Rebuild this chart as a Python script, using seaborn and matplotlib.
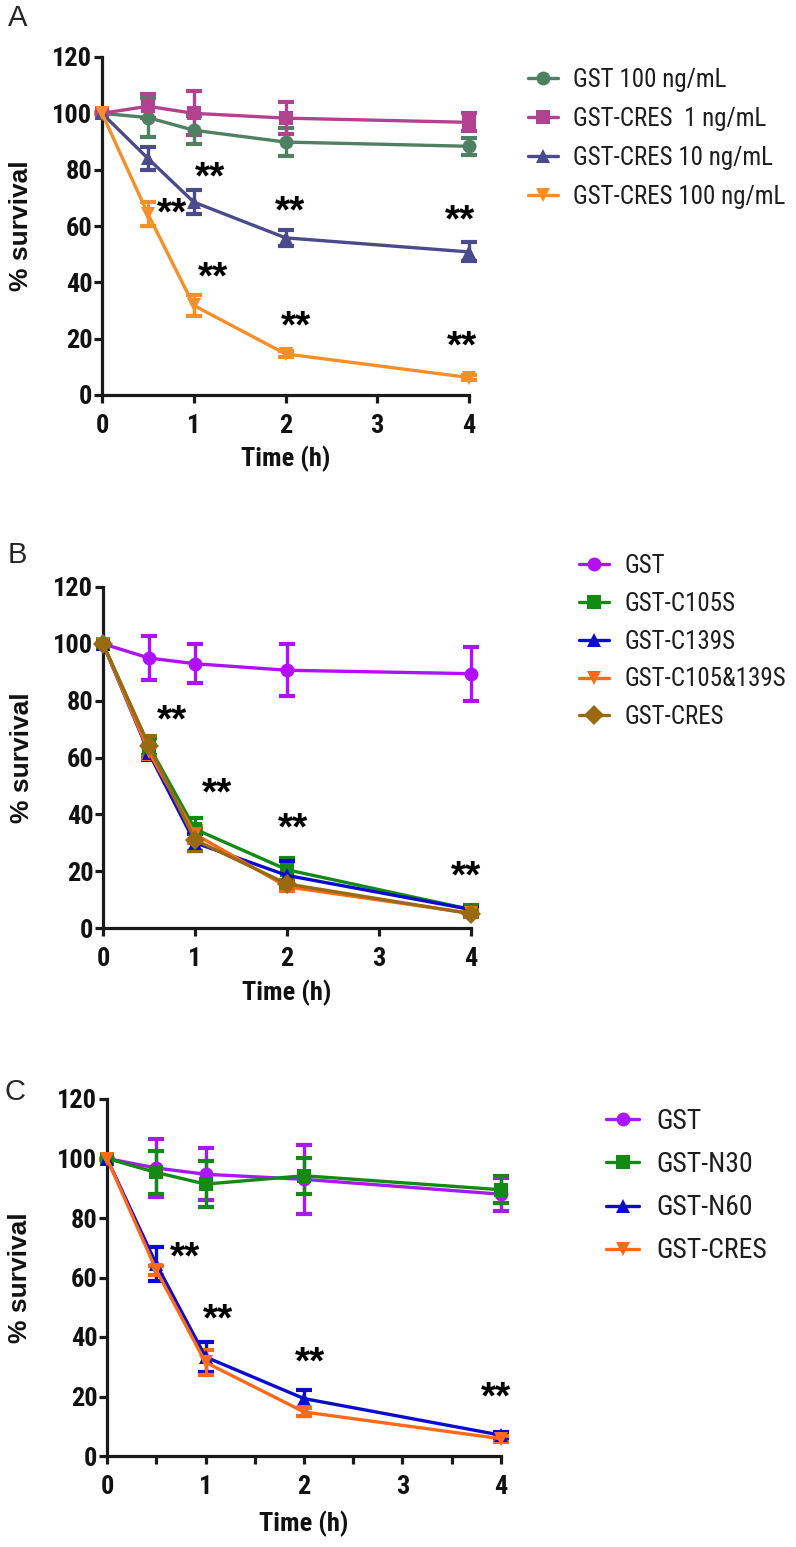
import numpy as np
import pandas as pd
import matplotlib
matplotlib.use('Agg')
from matplotlib import pyplot as plt
from matplotlib import font_manager
from matplotlib.lines import Line2D
import seaborn as sns

# shared time points (h)
time_h = [0, 0.5, 1, 2, 4]

# Panel A: dose response
a_groups = ['GST 100 ng/mL', 'GST-CRES  1 ng/mL', 'GST-CRES 10 ng/mL', 'GST-CRES 100 ng/mL']
a_gst100 = [100, 98.5, 94, 89.8, 88.3]
a_gst100_err = [0, 7, 5, 5, 3]
a_cres1 = [100, 102.5, 100, 98.3, 96.8]
a_cres1_err = [0, 4.3, 7.8, 5.8, 3.2]
a_cres10 = [100, 84, 68.5, 55.8, 50.8]
a_cres10_err = [0, 4.2, 4.4, 2.9, 3.4]
a_cres100 = [100, 64.3, 31.8, 14.6, 6.2]
a_cres100_err = [0, 4.2, 3.7, 1.0, 0.8]
a_star_x = [0.76, 1.18, 1.21, 2.05, 2.12, 3.9, 3.92]
a_star_y = [64, 77, 41.3, 64.7, 24, 61.7, 16.8]

# Panel B: cysteine mutants
b_groups = ['GST', 'GST-C105S', 'GST-C139S', 'GST-C105&139S', 'GST-CRES']
b_gst = [100, 95, 93, 90.7, 89.5]
b_gst_err = [0, 7.7, 6.8, 9.2, 9.5]
b_c105s = [100, 64, 34.8, 20.5, 6.5]
b_c105s_err = [0, 3, 4, 4.2, 1.5]
b_c139s = [100, 61.5, 30, 18.5, 6.5]
b_c139s_err = [0, 2.5, 3, 5.2, 1]
b_c105_139s = [100, 62, 33, 14.5, 5.2]
b_c105_139s_err = [0, 2.5, 3, 1.5, 1]
b_cres = [100, 64, 31, 15.5, 5]
b_cres_err = [0, 3.5, 4, 1.5, 1]
b_star_x = [0.75, 1.24, 2.07, 3.95]
b_star_y = [72.5, 47, 34.7, 17.9]

# Panel C: N-terminal truncations
c_groups = ['GST', 'GST-N30', 'GST-N60', 'GST-CRES']
c_gst = [100, 96.8, 94.7, 93, 88]
c_gst_err = [0, 9.7, 8.7, 11.5, 5.5]
c_n30 = [100, 95.3, 91.4, 94.2, 89.5]
c_n30_err = [0, 7.2, 7.7, 6, 4.5]
c_n60 = [100, 64.5, 33.3, 19.3, 7]
c_n60_err = [0, 5.8, 5, 3, 1]
c_cres = [100, 62.5, 31.5, 14.8, 5.8]
c_cres_err = [0, 1.5, 4.2, 1.2, 1]
c_star_x = [0.79, 1.13, 2.06, 3.95]
c_star_y = [66.3, 45.4, 31.1, 19.2]

W, H = 796, 1547


def pick_fonts(candidates):
    # keep only families that are really installed, DejaVu as last resort
    installed = {f.name for f in font_manager.fontManager.ttflist}
    return [c for c in candidates if c in installed] + ['DejaVu Sans']


NARROW = pick_fonts(['Liberation Sans Narrow', 'Arial Narrow', 'Roboto Condensed',
                     'Sofia Sans Semi Condensed', 'Barlow Semi Condensed', 'Liberation Sans'])
SANS = pick_fonts(['Liberation Sans', 'Arial', 'Arimo', 'Helvetica', 'Roboto'])

sns.set_theme(style='white')
plt.rcParams['font.family'] = SANS

fig = plt.figure(figsize=(W / 100, H / 100), dpi=100)


def add_axes_px(left, right, top, bottom):
    return fig.add_axes([left / W, 1 - bottom / H, (right - left) / W, (bottom - top) / H])


def draw_panel(ax, groups, means, errs, colors, markers, star_x, star_y,
               letter, letter_xy, legend_xy, legend_size, legend_gap, minor=False):
    rows = []
    for g, m in zip(groups, means):
        for t, v in zip(time_h, m):
            rows.append({'time': t, 'survival': v, 'group': g})
    df = pd.DataFrame(rows)

    # error bars first, lines and markers on top
    for m, e, c in zip(means, errs, colors):
        ax.errorbar(time_h, m, yerr=e, fmt='none', ecolor=c, elinewidth=2.4,
                    capsize=5.5, capthick=3, clip_on=False, zorder=2)
    sns.lineplot(data=df, x='time', y='survival', hue='group', style='group',
                 hue_order=groups, style_order=groups,
                 palette=dict(zip(groups, colors)), markers=dict(zip(groups, markers)),
                 dashes=False, linewidth=2.4, markersize=10, markeredgewidth=0,
                 legend=False, errorbar=None, ax=ax, clip_on=False, zorder=3)

    ax.set_xlim(0, 4)
    ax.set_ylim(0, 120)
    ax.set_xticks([0, 1, 2, 3, 4])
    ax.set_yticks(range(0, 121, 20))
    if minor:
        ax.set_xticks([0.5, 1.5, 2.5, 3.5], minor=True)
    sns.despine(ax=ax)
    for s in ['left', 'bottom']:
        ax.spines[s].set_linewidth(2.3)
        ax.spines[s].set_color('#1a1a1a')
    ax.tick_params(axis='both', which='both', direction='out', length=6,
                   width=2.3, color='#1a1a1a', bottom=True, left=True)
    ax.tick_params(axis='y', pad=1)
    ax.tick_params(axis='x', pad=8)
    for lab in ax.get_xticklabels() + ax.get_yticklabels():
        lab.set_fontfamily(NARROW)
        lab.set_fontweight('bold')
        lab.set_fontsize(19)
        lab.set_color('#111111')

    ax.set_xlabel('Time (h)', fontsize=19, fontweight='bold', family=NARROW, color='#111111')
    ax.xaxis.set_label_coords(0.5, -0.19)
    ax.xaxis.label.set_va('center')
    ax.set_ylabel('% survival', fontsize=19, fontweight='bold', family=SANS, color='#111111')
    ax.yaxis.set_label_coords(-0.22, 0.5)
    ax.yaxis.label.set_va('center')

    for sx, sy in zip(star_x, star_y):
        ax.text(sx, sy, '**', ha='center', va='center', fontsize=28,
                fontweight='bold', family=SANS, color='black')

    fig.text(letter_xy[0] / W, 1 - letter_xy[1] / H, letter, fontsize=21,
             family=SANS, ha='center', va='center')

    handles = [Line2D([0], [0], color=c, marker=mk, lw=2.4, markersize=10,
                      markeredgewidth=0) for c, mk in zip(colors, markers)]
    ax.legend(handles, groups, loc='upper left',
              bbox_to_anchor=(legend_xy[0] / W, 1 - legend_xy[1] / H),
              bbox_transform=fig.transFigure, frameon=False, borderpad=0,
              borderaxespad=0, handlelength=1.2, handletextpad=0.6,
              labelspacing=legend_gap, labelcolor='#1e1e1e',
              prop={'family': NARROW, 'size': legend_size})


ax_a = add_axes_px(102, 469, 57, 395)
draw_panel(ax_a, a_groups,
           [a_gst100, a_cres1, a_cres10, a_cres100],
           [a_gst100_err, a_cres1_err, a_cres10_err, a_cres100_err],
           ['#4f8062', '#b2428f', '#4b4a8c', '#f68e2a'],
           ['o', 's', '^', 'v'], a_star_x, a_star_y,
           'A', (18, 18), (528, 68), 18, 0.6)

ax_b = add_axes_px(103, 471, 587, 928)
draw_panel(ax_b, b_groups,
           [b_gst, b_c105s, b_c139s, b_c105_139s, b_cres],
           [b_gst_err, b_c105s_err, b_c139s_err, b_c105_139s_err, b_cres_err],
           ['#b010ff', '#138a13', '#0a0ad0', '#ff6a1a', '#9a6a12'],
           ['o', 's', '^', 'v', 'D'], b_star_x, b_star_y,
           'B', (17, 555), (579, 554), 18, 0.55)

ax_c = add_axes_px(107, 501, 1099, 1456)
draw_panel(ax_c, c_groups,
           [c_gst, c_n30, c_n60, c_cres],
           [c_gst_err, c_n30_err, c_n60_err, c_cres_err],
           ['#a818f8', '#138a13', '#0a0ad0', '#ff6a1a'],
           ['o', 's', '^', 'v'], c_star_x, c_star_y,
           'C', (15, 1092), (606, 1108), 20, 0.58, minor=True)

fig.savefig('out.png', dpi=100)
